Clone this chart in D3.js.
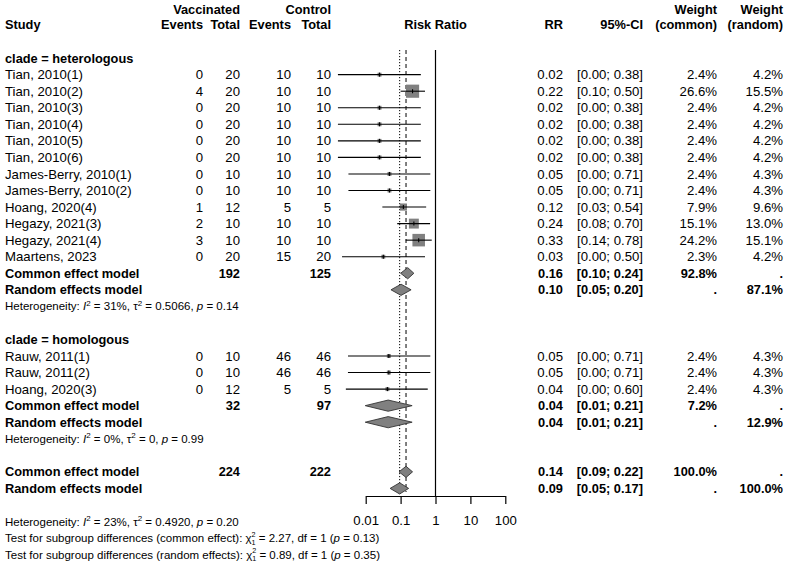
<!DOCTYPE html>
<html>
<head>
<meta charset="utf-8">
<script src="https://cdn.jsdelivr.net/npm/d3@7"></script>
<style>
  body { margin: 0; background: #fff; }
  svg { display: block; }
  text { font-family: "Liberation Sans", Arial, Helvetica, sans-serif; fill: #000; }
</style>
</head>
<body>
<svg id="chart" width="787" height="566"></svg>
<script>
// ---------------- data ----------------
const studies   = ["Tian, 2010(1)", "Tian, 2010(2)", "Tian, 2010(3)", "Tian, 2010(4)", "Tian, 2010(5)", "Tian, 2010(6)",
                   "James-Berry, 2010(1)", "James-Berry, 2010(2)", "Hoang, 2020(4)", "Hegazy, 2021(3)", "Hegazy, 2021(4)", "Maartens, 2023",
                   "Rauw, 2011(1)", "Rauw, 2011(2)", "Hoang, 2020(3)"];
const clade     = ["heterologous","heterologous","heterologous","heterologous","heterologous","heterologous",
                   "heterologous","heterologous","heterologous","heterologous","heterologous","heterologous",
                   "homologous","homologous","homologous"];
const evVacc    = [0, 4, 0, 0, 0, 0, 0, 0, 1, 2, 3, 0, 0, 0, 0];
const totVacc   = [20, 20, 20, 20, 20, 20, 10, 10, 12, 10, 10, 20, 10, 10, 12];
const evCtrl    = [10, 10, 10, 10, 10, 10, 10, 10, 5, 10, 10, 15, 46, 46, 5];
const totCtrl   = [10, 10, 10, 10, 10, 10, 10, 10, 5, 10, 10, 20, 46, 46, 5];
const rr        = [0.0249, 0.22, 0.0249, 0.0249, 0.0249, 0.0249, 0.048, 0.048, 0.12, 0.24, 0.33, 0.032, 0.046, 0.046, 0.042];
const rrLower   = [0.0016, 0.10, 0.0016, 0.0016, 0.0016, 0.0016, 0.0032, 0.0032, 0.03, 0.08, 0.14, 0.0021, 0.0031, 0.0031, 0.0027];
const rrUpper   = [0.38, 0.50, 0.38, 0.38, 0.38, 0.38, 0.71, 0.71, 0.54, 0.70, 0.78, 0.50, 0.71, 0.71, 0.60];
const wCommon   = [2.4, 26.6, 2.4, 2.4, 2.4, 2.4, 2.4, 2.4, 7.9, 15.1, 24.2, 2.3, 2.4, 2.4, 2.4];
const wRandom   = [4.2, 15.5, 4.2, 4.2, 4.2, 4.2, 4.3, 4.3, 9.6, 13.0, 15.1, 4.2, 4.3, 4.3, 4.3];

// subgroup summaries
const groups        = ["heterologous", "homologous"];
const groupTotVacc  = [192, 32];
const groupTotCtrl  = [125, 97];
const groupCommon   = [[0.16, 0.10, 0.24], [0.044, 0.0097, 0.214]];
const groupRandom   = [[0.103, 0.053, 0.20], [0.044, 0.0097, 0.214]];
const groupWCommon  = [92.8, 7.2];
const groupWRandom  = [87.1, 12.9];
const groupI2       = ["31%", "0%"];
const groupTau2     = ["0.5066", "0"];
const groupP        = ["0.14", "0.99"];

// overall
const overallTot    = [224, 222];
const overallCommon = [0.143, 0.09, 0.22];
const overallRandom = [0.094, 0.05, 0.17];
const overallHet    = ["23%", "0.4920", "0.20"];
const subgroupTests = [["common effect", "2.27", "1", "0.13"], ["random effects", "0.89", "1", "0.35"]];
const axisTicks     = [0.01, 0.1, 1, 10, 100];
const axisLabels    = ["0.01", "0.1", "1", "10", "100"];

// ---------------- layout ----------------
const svg = d3.select("#chart");
const FS = 13.2, FSB = 12.8, FSsmall = 11.5, FSscript = 7.2;
const rowH = 16.55, y0 = 25;
const rowY = i => y0 + i * rowH;
const col = { study: 5, evV: 203, totV: 240, evC: 291, totC: 331, rr: 563, ci: 643, wc: 717, wr: 783 };
const x = d3.scaleLog().domain([0.01, 100]).range([365.7, 505.3]);
const f2 = v => v.toFixed(2);
const pct = v => v == null ? "." : v.toFixed(1) + "%";
const grey = "#808080";

function txt(xp, yp, s, opts = {}) {
  return svg.append("text")
    .attr("x", xp).attr("y", yp).attr("dy", "0.35em")
    .attr("text-anchor", opts.anchor || "start")
    .attr("font-size", opts.size || (opts.bold ? FSB : FS))
    .attr("font-weight", opts.bold ? "bold" : "normal")
    .text(s);
}

// header
const hy1 = 9.5, hy2 = rowY(0);
txt(col.totV, hy1, "Vaccinated", { anchor: "end", bold: true });
txt(col.totC, hy1, "Control", { anchor: "end", bold: true });
txt(col.wc, hy1, "Weight", { anchor: "end", bold: true });
txt(col.wr, hy1, "Weight", { anchor: "end", bold: true });
txt(col.study, hy2, "Study", { bold: true });
txt(col.evV, hy2, "Events", { anchor: "end", bold: true });
txt(col.totV, hy2, "Total", { anchor: "end", bold: true });
txt(col.evC, hy2, "Events", { anchor: "end", bold: true });
txt(col.totC, hy2, "Total", { anchor: "end", bold: true });
txt(x(1), hy2, "Risk Ratio", { anchor: "middle", bold: true });
txt(col.rr, hy2, "RR", { anchor: "end", bold: true });
txt(col.ci, hy2, "95%-CI", { anchor: "end", bold: true });
txt(col.wc, hy2, "(common)", { anchor: "end", bold: true });
txt(col.wr, hy2, "(random)", { anchor: "end", bold: true });

// reference lines
const axisY = 496;
svg.append("line").attr("x1", x(1)).attr("x2", x(1)).attr("y1", 50).attr("y2", axisY)
  .attr("stroke", "#000").attr("stroke-width", 1.2);
svg.append("line").attr("x1", x(overallCommon[0])).attr("x2", x(overallCommon[0])).attr("y1", 50).attr("y2", 492)
  .attr("stroke", "#000").attr("stroke-width", 1).attr("stroke-dasharray", "4,3");
svg.append("line").attr("x1", x(overallRandom[0])).attr("x2", x(overallRandom[0])).attr("y1", 50).attr("y2", 492)
  .attr("stroke", "#000").attr("stroke-width", 1).attr("stroke-dasharray", "1.2,1.8");

function diamond(ci, yc) {
  const h = 5.6;
  const pts = [[x(ci[1]), yc], [x(ci[0]), yc - h], [x(ci[2]), yc], [x(ci[0]), yc + h]];
  svg.append("polygon").attr("points", pts.map(p => p.join(",")).join(" "))
    .attr("fill", grey).attr("stroke", "#333").attr("stroke-width", 0.9);
}

function hetLine(yp, i2, tau2, p) {
  const t = svg.append("text").attr("x", col.study).attr("y", yp).attr("dy", "0.35em").attr("font-size", FSsmall);
  t.append("tspan").text("Heterogeneity: ");
  t.append("tspan").attr("font-style", "italic").text("I");
  t.append("tspan").attr("font-size", FSscript + 0.8).attr("dy", -4.5).text("2");
  t.append("tspan").attr("dy", 4.5).text(" = " + i2 + ", \u03c4");
  t.append("tspan").attr("font-size", FSscript + 0.8).attr("dy", -4.5).text("2");
  t.append("tspan").attr("dy", 4.5).text(" = " + tau2 + ", ");
  t.append("tspan").attr("font-style", "italic").text("p");
  t.append("tspan").text(" = " + p);
}

// rows
let r = 2;
groups.forEach((g, gi) => {
  txt(col.study, rowY(r), "clade = " + g, { bold: true });
  r++;
  studies.forEach((s, i) => {
    if (clade[i] !== g) return;
    const yc = rowY(r);
    txt(col.study, yc, s);
    txt(col.evV, yc, evVacc[i], { anchor: "end" });
    txt(col.totV, yc, totVacc[i], { anchor: "end" });
    txt(col.evC, yc, evCtrl[i], { anchor: "end" });
    txt(col.totC, yc, totCtrl[i], { anchor: "end" });
    const side = 2.55 * Math.sqrt(wCommon[i]);
    svg.append("rect").attr("x", x(rr[i]) - side / 2).attr("y", yc - side / 2)
      .attr("width", side).attr("height", side).attr("fill", grey);
    svg.append("line").attr("x1", x(rrLower[i])).attr("x2", x(rrUpper[i])).attr("y1", yc).attr("y2", yc)
      .attr("stroke", "#000").attr("stroke-width", 1.1);
    svg.append("line").attr("x1", x(rr[i])).attr("x2", x(rr[i])).attr("y1", yc - 2).attr("y2", yc + 2)
      .attr("stroke", "#000").attr("stroke-width", 1.1);
    txt(col.rr, yc, f2(rr[i]), { anchor: "end" });
    txt(col.ci, yc, "[" + f2(rrLower[i]) + "; " + f2(rrUpper[i]) + "]", { anchor: "end" });
    txt(col.wc, yc, pct(wCommon[i]), { anchor: "end" });
    txt(col.wr, yc, pct(wRandom[i]), { anchor: "end" });
    r++;
  });
  // common
  let yc = rowY(r);
  txt(col.study, yc, "Common effect model", { bold: true });
  txt(col.totV, yc, groupTotVacc[gi], { anchor: "end", bold: true });
  txt(col.totC, yc, groupTotCtrl[gi], { anchor: "end", bold: true });
  diamond(groupCommon[gi], yc);
  txt(col.rr, yc, f2(groupCommon[gi][0]), { anchor: "end", bold: true });
  txt(col.ci, yc, "[" + f2(groupCommon[gi][1]) + "; " + f2(groupCommon[gi][2]) + "]", { anchor: "end", bold: true });
  txt(col.wc, yc, pct(groupWCommon[gi]), { anchor: "end", bold: true });
  txt(col.wr, yc, ".", { anchor: "end", bold: true });
  r++;
  yc = rowY(r);
  txt(col.study, yc, "Random effects model", { bold: true });
  diamond(groupRandom[gi], yc);
  txt(col.rr, yc, f2(groupRandom[gi][0]), { anchor: "end", bold: true });
  txt(col.ci, yc, "[" + f2(groupRandom[gi][1]) + "; " + f2(groupRandom[gi][2]) + "]", { anchor: "end", bold: true });
  txt(col.wc, yc, ".", { anchor: "end", bold: true });
  txt(col.wr, yc, pct(groupWRandom[gi]), { anchor: "end", bold: true });
  r++;
  hetLine(rowY(r), groupI2[gi], groupTau2[gi], groupP[gi]);
  r += 2;
});

// overall
let yc = rowY(r);
txt(col.study, yc, "Common effect model", { bold: true });
txt(col.totV, yc, overallTot[0], { anchor: "end", bold: true });
txt(col.totC, yc, overallTot[1], { anchor: "end", bold: true });
diamond(overallCommon, yc);
txt(col.rr, yc, f2(overallCommon[0]), { anchor: "end", bold: true });
txt(col.ci, yc, "[" + f2(overallCommon[1]) + "; " + f2(overallCommon[2]) + "]", { anchor: "end", bold: true });
txt(col.wc, yc, "100.0%", { anchor: "end", bold: true });
txt(col.wr, yc, ".", { anchor: "end", bold: true });
r++;
yc = rowY(r);
txt(col.study, yc, "Random effects model", { bold: true });
diamond(overallRandom, yc);
txt(col.rr, yc, f2(overallRandom[0]), { anchor: "end", bold: true });
txt(col.ci, yc, "[" + f2(overallRandom[1]) + "; " + f2(overallRandom[2]) + "]", { anchor: "end", bold: true });
txt(col.wc, yc, ".", { anchor: "end", bold: true });
txt(col.wr, yc, "100.0%", { anchor: "end", bold: true });
r += 2;

// axis
const axis = d3.axisBottom(x).tickValues(axisTicks).tickFormat((d, i) => axisLabels[i])
  .tickSize(8).tickSizeOuter(0).tickPadding(12);
const ag = svg.append("g").attr("transform", `translate(0,${axisY})`).call(axis);
ag.select(".domain").attr("stroke", "#000").attr("stroke-width", 1.2);
ag.selectAll(".tick line").attr("stroke", "#000").attr("stroke-width", 1.2);
ag.selectAll(".tick text").attr("font-size", FS).attr("font-family", "Liberation Sans, Arial, sans-serif").attr("fill", "#000");

hetLine(rowY(r), overallHet[0], overallHet[1], overallHet[2]);
r++;
subgroupTests.forEach(tst => {
  const yb = rowY(r);
  const t = svg.append("text").attr("x", col.study).attr("y", yb).attr("dy", "0.35em").attr("font-size", FSsmall);
  t.append("tspan").text("Test for subgroup differences (" + tst[0] + "): \u03c7");
  t.append("tspan").attr("font-size", FSscript).attr("dy", -5.2).text("2");
  t.append("tspan").attr("font-size", FSscript).attr("dx", -4).attr("dy", 8).text(tst[2]);
  t.append("tspan").attr("dy", -2.8).text(" = " + tst[1] + ", df = " + tst[2] + " (");
  t.append("tspan").attr("font-style", "italic").text("p");
  t.append("tspan").text(" = " + tst[3] + ")");
  r++;
});
</script>
</body>
</html>
